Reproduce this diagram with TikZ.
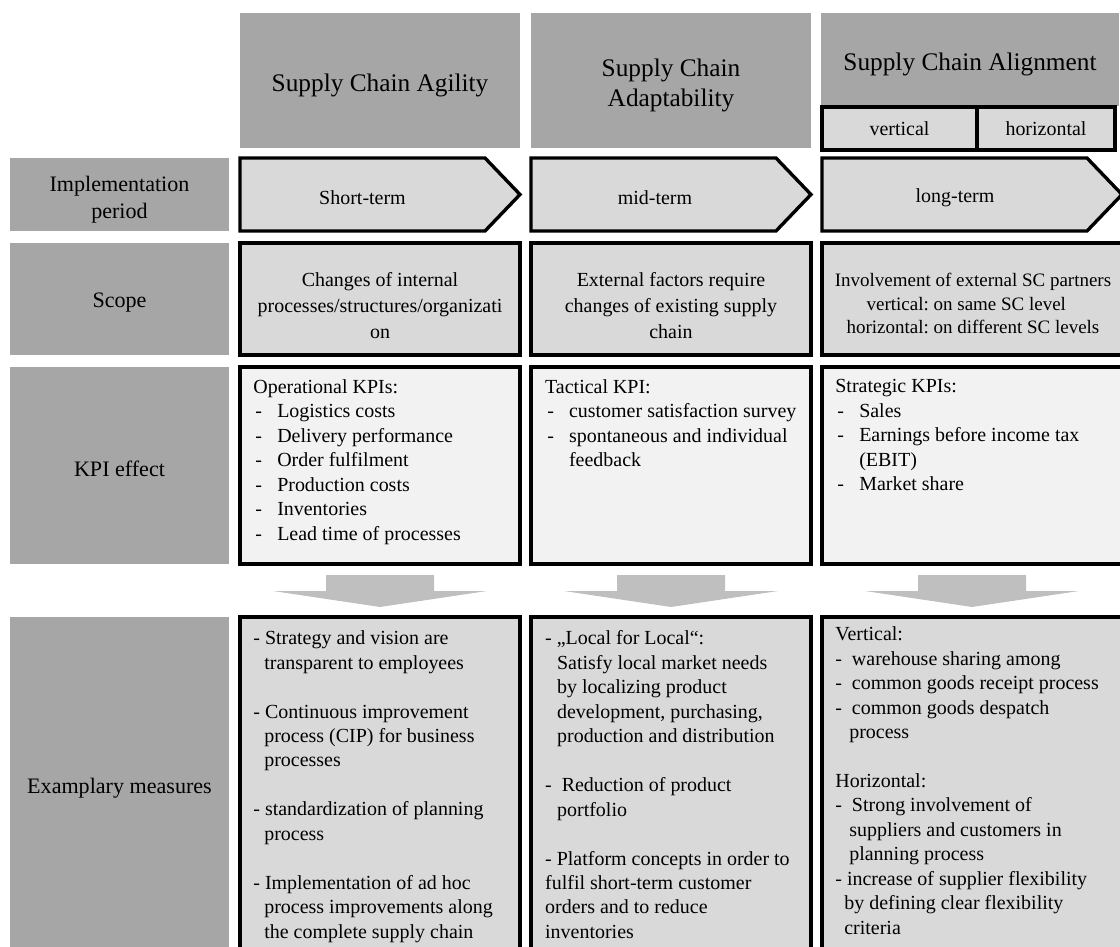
\documentclass[tikz,border=0pt]{standalone}
\usepackage{fontspec}
\setmainfont{Liberation Serif}
\usetikzlibrary{positioning}

\definecolor{labelgray}{HTML}{A6A6A6}
\definecolor{cellgray}{HTML}{D9D9D9}
\definecolor{kpigray}{HTML}{F2F2F2}
\definecolor{arrowgray}{HTML}{BFBFBF}

\newcommand{\kpiitem}[1]{\makebox[17pt][l]{\hspace{1.5pt}-}#1}
\newcommand{\hang}{\hspace*{0.55em}}
\newcommand{\wdash}{-\hspace{0.5em}}
\newcommand{\topstrut}[1]{\rule{0pt}{#1}}

\tikzset{
  lowered/.style={execute at begin node={\rule{0pt}{#1}}},
  rowlabel/.style={fill=labelgray, minimum width=5.475cm, align=center, inner sep=0pt,
    font=\fontsize{15.7}{19.2}\selectfont, lowered=15.5pt},
  colhead/.style={fill=labelgray, minimum width=7cm, minimum height=3.375cm, align=center,
    inner sep=0pt, font=\fontsize{18}{21.3}\selectfont, lowered=19.4pt},
  cell/.style={draw, line width=2.4pt, fill=cellgray, minimum width=7cm, align=center,
    inner sep=0pt, font=\fontsize{14.2}{17.4}\selectfont},
  scopecell/.style={cell, minimum height=2.8cm, font=\fontsize{14.2}{18.5}\selectfont},
  kpicell/.style={cell, fill=kpigray},
  period/.style={draw, line width=2.4pt, fill=cellgray},
  termtext/.style={inner sep=0pt, font=\fontsize{14.2}{17.4}\selectfont},
  celltext/.style={align=left, inner sep=0pt, font=\fontsize{14.2}{17.4}\selectfont},
  downarrow/.style={fill=arrowgray}
}

\begin{document}
\begin{tikzpicture}[x=0.025cm, y=-0.025cm]
\useasboundingbox (0,0) rectangle (1120,947);

% column heads
\node[colhead] (agility) at (380,80.5) {Supply Chain Agility};
\node[colhead] (adapt) at (671,80.5) {\topstrut{19.4pt}Supply Chain\\Adaptability};
\node[colhead, minimum width=7.45cm, minimum height=2.325cm] (alignment) at (970,59.5) {Supply Chain Alignment};
\node[cell, minimum width=3.875cm, minimum height=1.075cm] (vert) at (899.5,128.5) {vertical};
\node[cell, minimum width=3.45cm, minimum height=1.075cm] (horiz) at (1046,128.5) {horizontal};

% row labels
\node[rowlabel, minimum height=1.825cm] (lperiod) at (119.5,194.5) {\topstrut{17.8pt}Implementation\\period};
\node[rowlabel, minimum height=2.8cm] (lscope) at (119.5,299) {Scope};
\node[rowlabel, minimum height=4.925cm, lowered=11pt] (lkpi) at (119.5,465.5) {KPI effect};
\node[rowlabel, minimum height=8.375cm] (lmeasures) at (119.5,784.5) {Examplary measures};

% implementation period
\draw[period] (240,158) -- (485,158) -- (520,194.5) -- (485,231) -- (240,231) -- cycle;
\draw[period] (531,158) -- (776,158) -- (811,194.5) -- (776,231) -- (531,231) -- cycle;
\draw[period] (822,158) -- (1087,158) -- (1122,194.5) -- (1087,231) -- (822,231) -- cycle;
\node[termtext] (short) at (362.5,197.5) {Short-term};
\node[termtext] (mid) at (655,197.5) {mid-term};
\node[termtext] (long) at (955,197.5) {long-term};

% scope
\node[scopecell] (scope1) at (380,299) {\topstrut{19.7pt}Changes of internal\\processes/structures/organizati\\on};
\node[scopecell] (scope2) at (671,299) {\topstrut{19.7pt}External factors require\\changes of existing supply\\chain};
\node[cell, minimum height=2.8cm, minimum width=7.55cm, font=\fontsize{13.5}{16.5}\selectfont] (scope3) at (973,299)
  {\topstrut{20.6pt}Involvement of external SC partners\\[2pt]
   \begin{tabular}{@{}r@{\ }l@{}}vertical: & on same SC level\\ horizontal: & on different SC levels\end{tabular}};

% kpi effect
\node[kpicell, minimum height=4.925cm] (kpi1) at (380,465.5) {};
\node[kpicell, minimum height=4.925cm] (kpi2) at (671,465.5) {};
\node[kpicell, minimum height=4.925cm, minimum width=7.55cm] (kpi3) at (973,465.5) {};
\node[celltext, below right=0.35cm and 0.37cm of kpi1.north west] (kpi1txt)
  {Operational KPIs:\\
   \kpiitem{Logistics costs}\\
   \kpiitem{Delivery performance}\\
   \kpiitem{Order fulfilment}\\
   \kpiitem{Production costs}\\
   \kpiitem{Inventories}\\
   \kpiitem{Lead time of processes}};
\node[celltext, below right=0.35cm and 0.39cm of kpi2.north west] (kpi2txt)
  {Tactical KPI:\\
   \kpiitem{customer satisfaction survey}\\
   \kpiitem{spontaneous and individual}\\
   \hspace*{17pt}feedback};
\node[celltext, below right=0.35cm and 0.37cm of kpi3.north west] (kpi3txt)
  {Strategic KPIs:\\
   \kpiitem{Sales}\\
   \kpiitem{Earnings before income tax}\\
   \hspace*{17pt}(EBIT)\\
   \kpiitem{Market share}};

% arrows down
\fill[downarrow, shift={(380,0)}] (-54,575) -- (54,575) -- (54,591) -- (107,591) -- (0,607) -- (-107,591) -- (-54,591) -- cycle;
\fill[downarrow, shift={(671,0)}] (-54,575) -- (54,575) -- (54,591) -- (107,591) -- (0,607) -- (-107,591) -- (-54,591) -- cycle;
\fill[downarrow, shift={(972,0)}] (-54,575) -- (54,575) -- (54,591) -- (107,591) -- (0,607) -- (-107,591) -- (-54,591) -- cycle;

% examplary measures
\node[cell, minimum height=8.45cm] (meas1) at (380,786) {};
\node[cell, minimum height=8.45cm] (meas2) at (671,786) {};
\node[cell, minimum height=8.45cm, minimum width=7.55cm] (meas3) at (973,786) {};
\node[celltext, below right=0.38cm and 0.37cm of meas1.north west] (meas1txt)
  {- Strategy and vision are\\
   \hang transparent to employees\\[17.4pt]
   - Continuous improvement\\
   \hang process (CIP) for business\\
   \hang processes\\[17.4pt]
   - standardization of planning\\
   \hang process\\[17.4pt]
   - Implementation of ad hoc\\
   \hang process improvements along\\
   \hang the complete supply chain};
\node[celltext, below right=0.38cm and 0.39cm of meas2.north west] (meas2txt)
  {- „Local for Local“:\\
   \hspace*{0.6em}Satisfy local market needs\\
   \hspace*{0.6em}by localizing product\\
   \hspace*{0.6em}development, purchasing,\\
   \hspace*{0.6em}production and distribution\\[17.4pt]
   \wdash Reduction of product\\
   \hspace*{0.6em}portfolio\\[17.4pt]
   - Platform concepts in order to\\
   fulfil short-term customer\\
   orders and to reduce\\
   inventories};
\node[celltext, below right=0.28cm and 0.37cm of meas3.north west] (meas3txt)
  {Vertical:\\
   \wdash warehouse sharing among\\
   \wdash common goods receipt process\\
   \wdash common goods despatch\\
   \hspace*{0.7em}process\\[17.4pt]
   Horizontal:\\
   \wdash Strong involvement of\\
   \hspace*{0.7em}suppliers and customers in\\
   \hspace*{0.7em}planning process\\
   - increase of supplier flexibility\\
   \hspace*{0.45em}by defining clear flexibility\\
   \hspace*{0.45em}criteria};
\end{tikzpicture}
\end{document}
